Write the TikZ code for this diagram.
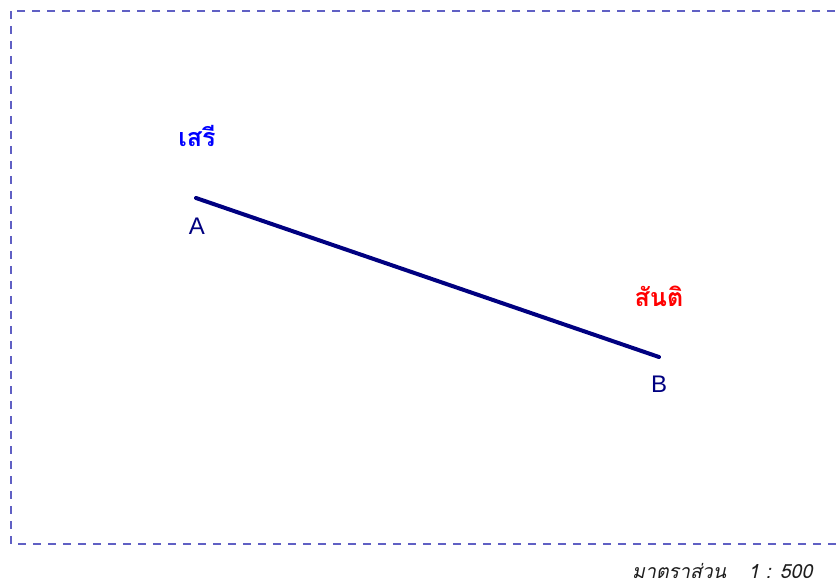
\documentclass[tikz,border=0pt]{standalone}
\usepackage{fontspec}
\setmainfont{Liberation Sans}
\newfontfamily\thaifont[Script=Thai]{Loma}
\usetikzlibrary{positioning}
\definecolor{sheetbdr}{RGB}{96,96,196}
\definecolor{segclr}{RGB}{0,0,128}
\definecolor{nameA}{RGB}{0,0,255}
\definecolor{nameB}{RGB}{255,0,0}
\definecolor{scaletext}{RGB}{30,30,30}
\tikzset{
  sheet/.style={draw=sheetbdr,dash pattern=on 8pt off 7pt,line width=1.1pt},
  seg/.style={draw=segclr,line width=4pt,line cap=round},
  ptlbl/.style={font=\fontsize{24}{28}\selectfont,text=segclr,inner sep=0pt},
  namelbl/.style={font=\thaifont\bfseries\fontsize{25}{30}\selectfont,
    text=#1,inner sep=0pt},
  scalelbl/.style={font=\thaifont\itshape\fontsize{19.5}{24}\selectfont,
    text=scaletext,inner sep=0pt},
}

\begin{document}
\begin{tikzpicture}[x=1pt,y=-1pt]

  \useasboundingbox (0,0) rectangle (838,585);
  \clip (0,0) rectangle (838,585);

  %% Frame
  \draw[sheet] (11,11) rectangle (880,544);

  %% Segment AB
  \coordinate (ptA) at (196,198);
  \coordinate (ptB) at (659,357);
  \draw[seg] (ptA) -- (ptB);

  %% Labels
  \node[ptlbl] (lblA) at (197,226) {A};
  \node[ptlbl] (lblB) at (659,384) {B};
  \node[namelbl=nameA] (seri) at (197,136) {เสรี};
  \node[namelbl=nameB] (santi) at (659,296) {สันติ};

  %% Scale
  \node[scalelbl,anchor=base west] (scale) at (632,578)
    {มาตราส่วน\hspace{22pt}1 : 500};

\end{tikzpicture}
\end{document}
